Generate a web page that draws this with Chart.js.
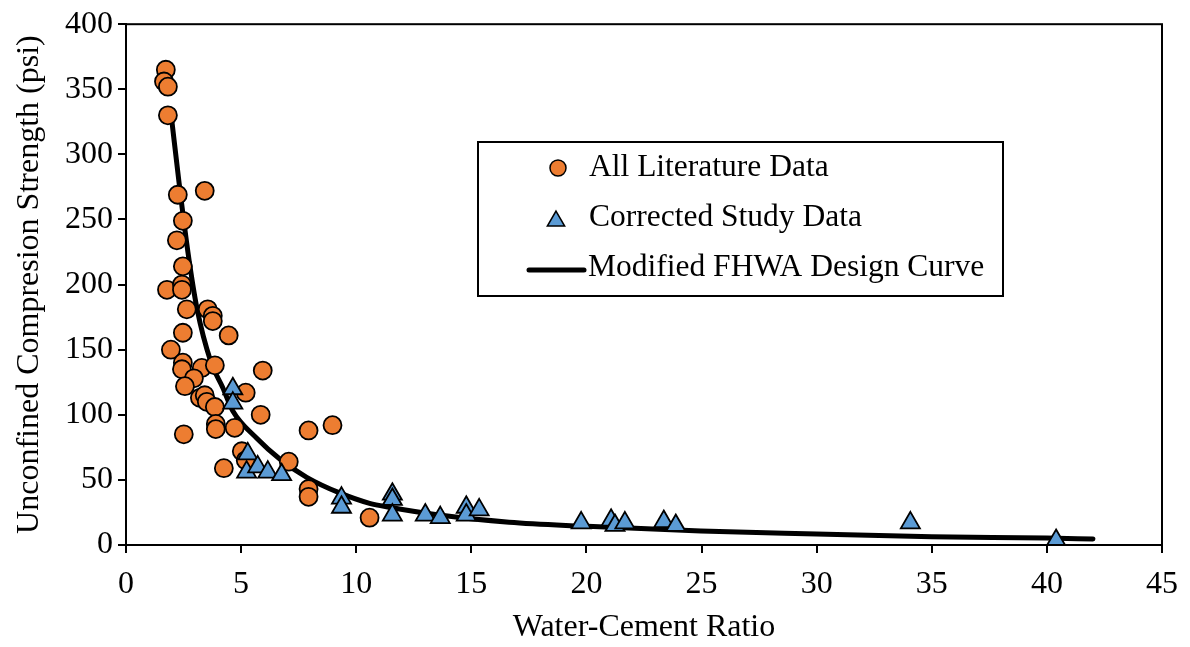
<!DOCTYPE html>
<html>
<head>
<meta charset="utf-8">
<script src="https://cdn.jsdelivr.net/npm/chart.js"></script>
<style>
  html, body { margin: 0; padding: 0; background: #fff; }
  #wrap { width: 1190px; height: 647px; position: relative; }
</style>
</head>
<body>
<div id="wrap"><canvas id="chart"></canvas></div>
<script>
// literature data (orange circles)
const litW = [1.73, 1.65, 1.82, 1.82, 2.25, 3.42, 2.47, 2.21, 2.47, 1.78, 2.43, 2.43, 2.64, 3.55, 3.77, 3.77,
  2.47, 4.46, 1.95, 2.47, 2.43, 3.29, 3.86, 5.94, 2.95, 2.56, 5.20, 3.21, 3.42, 3.51, 3.86, 5.85,
  3.90, 3.90, 4.72, 2.51, 7.93, 8.97, 5.03, 5.20, 4.25, 7.07, 7.93, 7.93, 10.58];
const litS = [365, 356, 352, 330, 269, 272, 249, 234, 214, 196, 200, 196, 181, 181, 176, 172,
  163, 161, 150, 140, 135, 136, 138, 134, 128, 122, 117, 113, 115, 110, 106, 100,
  93, 89, 90, 85, 88, 92, 72, 65, 59, 64, 43, 37, 21];

// corrected study data (blue triangles)
const studyW = [4.64, 4.64, 5.29, 5.24, 5.72, 6.16, 6.76, 9.36, 9.36, 11.57, 11.57, 11.57, 13.0, 13.65,
  14.78, 14.78, 15.34, 19.77, 21.07, 21.24, 21.67, 23.36, 23.88, 34.07, 40.4];
const studyS = [120, 109, 70, 56, 60, 56, 54, 36, 29, 39, 35, 23, 23, 21,
  29, 23, 27, 17, 19, 15, 17, 18, 15, 17, 3.5];

// modified FHWA design curve
const curveW = [1.99, 2.30, 2.69, 3.08, 3.68, 4.20, 4.64, 5.68, 6.68, 7.85, 9.28, 10.58, 11.44, 13.61,
  16.64, 19.77, 24.97, 30.0, 35.0, 40.0, 42.0];
const curveS = [326, 279, 225, 182, 141, 121, 103, 82, 66, 52, 40, 32, 29, 23,
  17.5, 14.5, 10.7, 8.4, 6.3, 5.3, 4.6];

const xTitle = 'Water-Cement Ratio';
const yTitle = 'Unconfined Compresion Strength (psi)';
const seriesNames = ['All Literature Data', 'Corrected Study Data', 'Modified FHWA Design Curve'];

const ORANGE = '#ED7D31';
const BLUE = '#5B9BD5';
const FONT = "'Liberation Serif', 'Times New Roman', serif";
const FS = 32;

const toPts = (xs, ys) => xs.map((x, i) => ({ x: x, y: ys[i] }));

// frame around the plot area
const frame = {
  id: 'frame',
  afterDatasetsDraw(chart) {
    const { ctx, chartArea: a } = chart;
    ctx.save();
    ctx.strokeStyle = '#000';
    ctx.lineWidth = 2;
    ctx.strokeRect(a.left, a.top, a.right - a.left, a.bottom - a.top);
    ctx.restore();
  }
};

// boxed legend inside the plot
const legendBox = {
  id: 'legendBox',
  afterDraw(chart) {
    const ctx = chart.ctx;
    const bx = 478, by = 142, bw = 525, bh = 154;
    ctx.save();
    ctx.fillStyle = '#fff';
    ctx.fillRect(bx, by, bw, bh);
    ctx.strokeStyle = '#000';
    ctx.lineWidth = 2;
    ctx.strokeRect(bx, by, bw, bh);

    ctx.font = '31.5px ' + FONT;
    ctx.fillStyle = '#000';
    ctx.textBaseline = 'middle';
    ctx.textAlign = 'left';
    const rows = [168, 218, 268];

    // circle
    ctx.beginPath();
    ctx.arc(558, rows[0], 8, 0, Math.PI * 2);
    ctx.fillStyle = ORANGE;
    ctx.fill();
    ctx.lineWidth = 1.5;
    ctx.strokeStyle = '#000';
    ctx.stroke();

    // triangle
    const r = 10;
    ctx.beginPath();
    for (let k = 0; k < 3; k++) {
      const ang = k * 2 * Math.PI / 3;
      const px = 556 + Math.sin(ang) * r;
      const py = rows[1] + 3 - Math.cos(ang) * r;
      if (k === 0) ctx.moveTo(px, py); else ctx.lineTo(px, py);
    }
    ctx.closePath();
    ctx.fillStyle = BLUE;
    ctx.fill();
    ctx.stroke();

    // line
    ctx.beginPath();
    ctx.moveTo(529, rows[2] + 2);
    ctx.lineTo(584, rows[2] + 2);
    ctx.lineWidth = 5;
    ctx.lineCap = 'round';
    ctx.stroke();

    ctx.fillStyle = '#000';
    ctx.fillText(seriesNames[0], 589, rows[0]);
    ctx.fillText(seriesNames[1], 589, rows[1]);
    ctx.fillText(seriesNames[2], 588, rows[2]);
    ctx.restore();
  }
};

new Chart(document.getElementById('chart'), {
  type: 'scatter',
  data: {
    datasets: [
      {
        label: seriesNames[1],
        data: toPts(studyW, studyS),
        pointStyle: 'triangle',
        pointRadius: 11,
        pointBackgroundColor: BLUE,
        pointBorderColor: '#000',
        pointBorderWidth: 1.8,
        order: 0
      },
      {
        label: seriesNames[0],
        data: toPts(litW, litS),
        pointStyle: 'circle',
        pointRadius: 9,
        pointBackgroundColor: ORANGE,
        pointBorderColor: '#000',
        pointBorderWidth: 1.8,
        order: 1
      },
      {
        label: seriesNames[2],
        data: toPts(curveW, curveS),
        showLine: true,
        pointRadius: 0,
        borderColor: '#000',
        borderWidth: 5,
        borderCapStyle: 'round',
        cubicInterpolationMode: 'monotone',
        order: 2
      }
    ]
  },
  options: {
    responsive: true,
    maintainAspectRatio: false,
    animation: false,
    layout: { padding: { top: 21, right: 26, left: 0, bottom: 0 } },
    plugins: {
      legend: { display: false },
      tooltip: { enabled: false }
    },
    scales: {
      x: {
        type: 'linear',
        min: 0, max: 45,
        afterFit: (s) => { s.height = 102; },
        ticks: { stepSize: 5, color: '#000', padding: 12, font: { family: FONT, size: FS } },
        grid: { drawOnChartArea: false, tickLength: 8, color: '#000', lineWidth: 2 },
        border: { color: '#000', width: 2 },
        title: { display: true, text: xTitle, color: '#000', padding: { top: 0, bottom: 0 }, font: { family: FONT, size: FS } }
      },
      y: {
        type: 'linear',
        min: 0, max: 400,
        afterFit: (s) => { s.width = 126; },
        ticks: { stepSize: 50, color: '#000', padding: 5, font: { family: FONT, size: FS } },
        grid: { drawOnChartArea: false, tickLength: 8, color: '#000', lineWidth: 2 },
        border: { color: '#000', width: 2 },
        title: { display: true, text: yTitle, color: '#000', padding: { top: 10, bottom: 0 }, font: { family: FONT, size: FS } }
      }
    }
  },
  plugins: [frame, legendBox]
});
</script>
</body>
</html>
